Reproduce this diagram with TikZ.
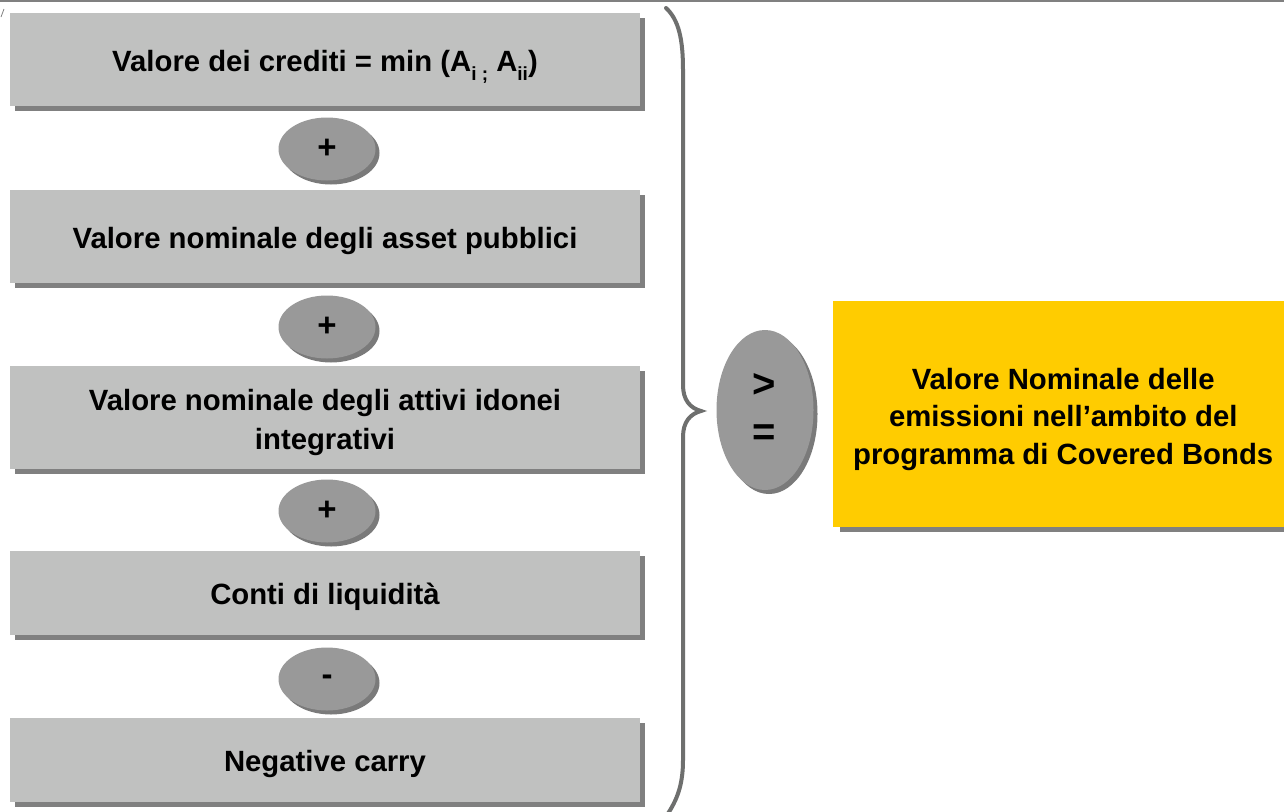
\documentclass[tikz,border=0pt]{standalone}
\usepackage{fontspec}
\setmainfont{Liberation Sans}
\usetikzlibrary{shapes.geometric}
\definecolor{boxgray}{RGB}{192,193,192}
\definecolor{shadowgray}{RGB}{128,128,128}
\definecolor{ovalgray}{RGB}{153,153,153}
\definecolor{ovalshadow}{RGB}{122,122,122}
\definecolor{bracegray}{RGB}{110,111,110}
\definecolor{gold}{RGB}{255,204,0}
\newcommand{\sbs}[1]{\raisebox{-0.3em}{\fontsize{19}{19}\selectfont #1}}
\tikzset{
  lbl/.style={font=\fontsize{29.3}{37.5}\selectfont\bfseries, align=center, text=black, inner sep=0pt},
  oplbl/.style={font=\fontsize{#1}{#1}\selectfont\bfseries, text=black, inner sep=0pt},
  termbox/.style={fill=boxgray, draw=none, minimum width=630, minimum height=#1, inner sep=0pt},
  termshadow/.style={fill=shadowgray, draw=none, minimum width=630, minimum height=#1, inner sep=0pt},
  opoval/.style={ellipse, fill=ovalgray, draw=none, minimum width=#1, inner sep=0pt},
  opshadow/.style={ellipse, fill=ovalshadow, draw=none, minimum width=#1, inner sep=0pt},
}
\begin{document}
\begin{tikzpicture}[x=1pt, y=-1pt]
\useasboundingbox (0,0) rectangle (1284,811);
\clip (0,0) rectangle (1284,811);
\fill[white] (0,0) rectangle (1284,811);
% header rule and corner tick
\draw[shadowgray, line width=2] (0,1) -- (1284,1);
\draw[shadowgray, line width=0.8] (4,9) -- (1,17);

% left column of terms
\foreach \yc/\h in {59.5/93, 236.5/93, 417.5/103, 593/84, 760/84}{
  \node[termshadow=\h] at (330,\yc+5) {};
}
\node[termbox=93] (t1) at (325,59.5) {};
\node[termbox=93] (t2) at (325,236.5) {};
\node[termbox=103] (t3) at (325,417.5) {};
\node[termbox=84] (t4) at (325,593) {};
\node[termbox=84] (t5) at (325,760) {};
\node[lbl] at ([yshift=-7pt]t1.center) {Valore dei crediti = min (A\sbs{i ;} A\sbs{ii})};
\node[lbl] at ([yshift=-4pt]t2.center) {Valore nominale degli asset pubblici};
\node[lbl, font=\fontsize{29.3}{39}\selectfont\bfseries] at ([yshift=-5pt]t3.center) {Valore nominale degli attivi idonei\\integrativi};
\node[lbl] at ([yshift=-4pt]t4.center) {Conti di liquidità};
\node[lbl] at ([yshift=-4pt]t5.center) {Negative carry};

% operators between the terms
\foreach \yc in {150,328,512,680}{
  \node[opshadow=97, minimum height=63] at (331,\yc+3) {};
}
\node[opoval=97, minimum height=63] (o1) at (327,149) {};
\node[opoval=97, minimum height=63] (o2) at (327,327) {};
\node[opoval=97, minimum height=63] (o3) at (327,511) {};
\node[opoval=97, minimum height=63] (o4) at (327,679) {};
\node[oplbl=33] at (o1) {+};
\node[oplbl=33] at (o2) {+};
\node[oplbl=33] at (o3) {+};
\node[oplbl=33] at ([yshift=-1]o4.center) {-};

% brace grouping the sum
\draw[bracegray, line width=4, line cap=round]
  (666,8) .. controls (679,20) and (683,40) .. (683,70)
  -- (683,385) .. controls (683,400) and (690,408) .. (701,411)
  .. controls (690,414) and (683,422) .. (683,437)
  -- (683,760) .. controls (683,785) and (677,800) .. (667,815);

% comparison operator
\node[opshadow=97, minimum height=160] at (769,414) {};
\node[opoval=97, minimum height=160] (cmp) at (765,410) {};
\node[oplbl=40] at (764,385) {>};
\node[oplbl=40] at (764,435) {=};

% right-hand side
\fill[shadowgray] (840,308) rectangle (1300,532);
\node[fill=gold, minimum width=460, minimum height=226, inner sep=0pt, anchor=north west] (rhs) at (833,301) {};
\node[lbl] at ([yshift=-5pt]rhs.center)
  {Valore Nominale delle\\emissioni nell’ambito del\\programma di Covered Bonds};
\end{tikzpicture}
\end{document}
